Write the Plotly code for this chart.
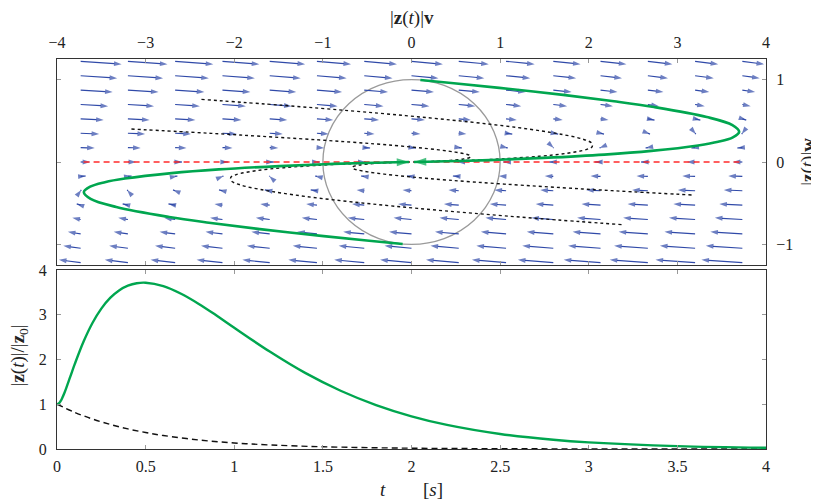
import plotly.graph_objects as go

# ---------------- data ----------------
# quiver grid
quiver_x = [-3.733, -3.2, -2.667, -2.133, -1.6, -1.067, -0.533, 0.0,
            0.533, 1.067, 1.6, 2.133, 2.667, 3.2, 3.733]
quiver_y = [1.222, 1.047, 0.873, 0.698, 0.524, 0.349, 0.175, 0.0,
            -0.175, -0.349, -0.524, -0.698, -0.873, -1.047, -1.222]
# horizontal arrow components (rows top -> bottom, columns left -> right)
quiver_u = [
    [0.462, 0.447, 0.431, 0.416, 0.400, 0.385, 0.369, 0.354, 0.339, 0.323, 0.308, 0.292, 0.277, 0.261, 0.246],
    [0.412, 0.397, 0.381, 0.366, 0.350, 0.335, 0.319, 0.304, 0.289, 0.273, 0.258, 0.242, 0.227, 0.211, 0.196],
    [0.361, 0.346, 0.330, 0.315, 0.299, 0.284, 0.268, 0.253, 0.238, 0.222, 0.207, 0.191, 0.176, 0.160, 0.145],
    [0.310, 0.295, 0.279, 0.264, 0.248, 0.233, 0.217, 0.202, 0.187, 0.171, 0.156, 0.140, 0.125, 0.109, 0.094],
    [0.260, 0.245, 0.229, 0.214, 0.198, 0.183, 0.167, 0.152, 0.137, 0.121, 0.106, 0.090, 0.075, 0.059, 0.044],
    [0.209, 0.194, 0.178, 0.163, 0.147, 0.132, 0.116, 0.101, 0.086, 0.070, 0.055, 0.039, 0.024, 0.008, -0.007],
    [0.159, 0.144, 0.128, 0.113, 0.097, 0.082, 0.066, 0.051, 0.036, 0.020, 0.005, -0.011, -0.026, -0.042, -0.057],
    [0.108, 0.093, 0.077, 0.062, 0.046, 0.031, 0.015, 0.000, -0.015, -0.031, -0.046, -0.062, -0.077, -0.093, -0.108],
    [0.057, 0.042, 0.026, 0.011, -0.005, -0.020, -0.036, -0.051, -0.066, -0.082, -0.097, -0.113, -0.128, -0.144, -0.159],
    [0.007, -0.008, -0.024, -0.039, -0.055, -0.070, -0.086, -0.101, -0.116, -0.132, -0.147, -0.163, -0.178, -0.194, -0.209],
    [-0.044, -0.059, -0.075, -0.090, -0.106, -0.121, -0.137, -0.152, -0.167, -0.183, -0.198, -0.214, -0.229, -0.245, -0.260],
    [-0.094, -0.109, -0.125, -0.140, -0.156, -0.171, -0.187, -0.202, -0.217, -0.233, -0.248, -0.264, -0.279, -0.295, -0.310],
    [-0.145, -0.160, -0.176, -0.191, -0.207, -0.222, -0.238, -0.253, -0.268, -0.284, -0.299, -0.315, -0.330, -0.346, -0.361],
    [-0.196, -0.211, -0.227, -0.242, -0.258, -0.273, -0.289, -0.304, -0.319, -0.335, -0.350, -0.366, -0.381, -0.397, -0.412],
    [-0.246, -0.261, -0.277, -0.292, -0.308, -0.323, -0.339, -0.354, -0.369, -0.385, -0.400, -0.416, -0.431, -0.447, -0.462],
]
# vertical arrow components per row
quiver_v = [-0.035, -0.030, -0.025, -0.020, -0.015, -0.010, -0.005, 0.0,
            0.005, 0.010, 0.015, 0.020, 0.025, 0.030, 0.035]

# green phase-plane trajectories
green_up_x = [0.1, 0.478, 0.991, 1.711, 2.285, 2.735, 3.331, 3.621, 3.697, 3.626,
              3.460, 3.234, 2.706, 2.175, 1.491, 0.981, 0.540, 0.285, 0.148, 0.027]
green_up_y = [0.995, 0.956, 0.900, 0.815, 0.737, 0.667, 0.546, 0.447, 0.366, 0.300,
              0.245, 0.201, 0.135, 0.090, 0.050, 0.027, 0.012, 0.0055, 0.0025, 0.0003]
green_dn_x = [-0.1, -0.478, -0.991, -1.711, -2.285, -2.735, -3.331, -3.621, -3.697, -3.626,
              -3.460, -3.234, -2.706, -2.175, -1.491, -0.981, -0.540, -0.285, -0.148, -0.027]
green_dn_y = [-0.995, -0.956, -0.900, -0.815, -0.737, -0.667, -0.546, -0.447, -0.366, -0.300,
              -0.245, -0.201, -0.135, -0.090, -0.050, -0.027, -0.012, -0.0055, -0.0025, -0.0003]

# dotted trajectories
dot1_x = [-2.37, -1.457, -0.696, -0.067, 0.449, 0.867, 1.202, 1.465, 1.667, 1.924, 2.033,
          2.039, 1.977, 1.736, 1.439, 1.017, 0.683, 0.381, 0.205, 0.107, 0.020]
dot1_y = [0.76, 0.688, 0.622, 0.563, 0.509, 0.461, 0.417, 0.377, 0.341, 0.280, 0.229,
          0.187, 0.153, 0.103, 0.069, 0.038, 0.021, 0.0093, 0.0042, 0.0019, 0.0003]
dot2_x = [-3.16, -2.497, -1.932, -1.046, -0.417, 0.018, 0.309, 0.494, 0.602, 0.654, 0.668,
          0.655, 0.584, 0.440, 0.307, 0.178, 0.097, 0.052]
dot2_y = [0.40, 0.362, 0.327, 0.268, 0.220, 0.180, 0.147, 0.120, 0.0986, 0.081, 0.066,
          0.054, 0.036, 0.020, 0.011, 0.005, 0.0022, 0.001]
dot3_x = [2.37, 1.457, 0.696, 0.067, -0.449, -0.867, -1.202, -1.465, -1.667, -1.924, -2.033,
          -2.039, -1.977, -1.736, -1.439, -1.017, -0.683, -0.381, -0.205, -0.107, -0.020]
dot3_y = [-0.76, -0.688, -0.622, -0.563, -0.509, -0.461, -0.417, -0.377, -0.341, -0.280, -0.229,
          -0.187, -0.153, -0.103, -0.069, -0.038, -0.021, -0.0093, -0.0042, -0.0019, -0.0003]
dot4_x = [3.16, 2.497, 1.932, 1.046, 0.417, -0.018, -0.309, -0.494, -0.602, -0.654, -0.668,
          -0.655, -0.584, -0.440, -0.307, -0.178, -0.097, -0.052]
dot4_y = [-0.40, -0.362, -0.327, -0.268, -0.220, -0.180, -0.147, -0.120, -0.0986, -0.081, -0.066,
          -0.054, -0.036, -0.020, -0.011, -0.005, -0.0022, -0.001]

# eigen-direction (red dashed)
eig_x = [-3.7, 3.7]
eig_y = [0.0, 0.0]

# lower panel: normalised norm vs time
t_vals = [0, 0.01, 0.02, 0.03, 0.04, 0.05, 0.075, 0.1, 0.15, 0.2, 0.25, 0.3, 0.35, 0.4,
          0.45, 0.5, 0.6, 0.7, 0.8, 0.9, 1.0, 1.2, 1.4, 1.6, 1.8, 2.0, 2.2, 2.5, 2.8,
          3.0, 3.5, 4.0]
ratio_vals = [1.0, 1.018, 1.069, 1.144, 1.236, 1.339, 1.616, 1.895, 2.401, 2.815, 3.137,
              3.376, 3.543, 3.649, 3.704, 3.715, 3.639, 3.468, 3.241, 2.982, 2.710, 2.177,
              1.700, 1.302, 0.982, 0.731, 0.539, 0.336, 0.206, 0.148, 0.064, 0.027]
decay_t = [0, 0.1, 0.2, 0.3, 0.4, 0.5, 0.6, 0.8, 1.0, 1.2, 1.5, 2.0, 2.5, 3.0, 3.5, 4.0]
decay_vals = [1.0, 0.819, 0.670, 0.549, 0.449, 0.368, 0.301, 0.202, 0.135, 0.091, 0.050,
              0.018, 0.0067, 0.0025, 0.0009, 0.0003]

# ---------------- styling ----------------
FONT = "Liberation Serif, DejaVu Serif, serif"
BLUE = "#2f49a8"
GREEN = "#00a64f"
TXT = "#222222"

fig = go.Figure()

# quiver
qx, qy, qs = [], [], []
for i, yv in enumerate(quiver_y):
    for j, xv in enumerate(quiver_x):
        u = quiver_u[i][j]
        v = quiver_v[i]
        if u == 0 and v == 0:
            continue
        qx += [xv, xv + u, None]
        qy += [yv, yv + v, None]
        qs += [0, 8, 0]
fig.add_trace(go.Scatter(
    x=qx, y=qy, mode="lines+markers", xaxis="x", yaxis="y",
    line=dict(color=BLUE, width=1.2),
    marker=dict(symbol="arrow", size=qs, angleref="previous", color=BLUE,
                line=dict(width=0)),
    hoverinfo="skip", showlegend=False, connectgaps=False))

# red dashed eigen line
fig.add_trace(go.Scatter(x=eig_x, y=eig_y, mode="lines", xaxis="x", yaxis="y",
                         line=dict(color="#ff2a2a", width=1.5, dash="6px,4px"),
                         showlegend=False, hoverinfo="skip"))

# dotted trajectories
for dx, dy in [(dot1_x, dot1_y), (dot2_x, dot2_y), (dot3_x, dot3_y), (dot4_x, dot4_y)]:
    fig.add_trace(go.Scatter(x=dx, y=dy, mode="lines", xaxis="x", yaxis="y",
                             line=dict(color="#111111", width=1.4, dash="dot", shape="spline"),
                             showlegend=False, hoverinfo="skip"))

# green trajectories with arrow heads
for gx, gy in [(green_up_x, green_up_y), (green_dn_x, green_dn_y)]:
    sizes = [0] * (len(gx) - 1) + [13]
    fig.add_trace(go.Scatter(x=gx, y=gy, mode="lines+markers", xaxis="x", yaxis="y",
                             line=dict(color=GREEN, width=2.6, shape="spline"),
                             marker=dict(symbol="arrow", size=sizes, angleref="previous",
                                         color=GREEN, line=dict(width=0)),
                             showlegend=False, hoverinfo="skip"))

# lower panel
fig.add_trace(go.Scatter(x=decay_t, y=decay_vals, mode="lines", xaxis="x2", yaxis="y2",
                         line=dict(color="#111111", width=1.4, dash="6px,4px", shape="spline"),
                         showlegend=False, hoverinfo="skip"))
fig.add_trace(go.Scatter(x=t_vals, y=ratio_vals, mode="lines", xaxis="x2", yaxis="y2",
                         line=dict(color=GREEN, width=2.4, shape="spline"),
                         showlegend=False, hoverinfo="skip"))

axis_common = dict(showgrid=False, zeroline=False, showline=True, linecolor="#333333",
                   linewidth=1.2, mirror="allticks", ticks="inside", ticklen=4,
                   tickcolor="#999999", tickwidth=1, automargin=False,
                   tickfont=dict(family=FONT, size=16, color=TXT))

LBL = dict(family=FONT, size=19, color=TXT)


def label(text, x, y, xref="paper", angle=0):
    return dict(text=text, xref=xref, yref="paper", x=x, y=y, textangle=angle,
                xanchor="center", yanchor="middle", showarrow=False, font=LBL)


fig.update_layout(
    width=819, height=503,
    margin=dict(l=49, r=61, t=51, b=62),
    paper_bgcolor="white", plot_bgcolor="white",
    font=dict(family=FONT, color=TXT),
    xaxis=dict(domain=[0, 1], anchor="y", side="top", range=[-4, 4], dtick=1,
               ticklabelstandoff=4, **axis_common),
    yaxis=dict(domain=[0.4718, 1], anchor="x", side="right", range=[-1.25, 1.25],
               tickvals=[-1, 0, 1], ticklabelstandoff=6, **axis_common),
    xaxis2=dict(domain=[0, 1], anchor="y2", range=[0, 4], dtick=0.5,
                ticklabelstandoff=3, **axis_common),
    yaxis2=dict(domain=[0, 0.459], anchor="x2", range=[0, 4], dtick=1,
                ticklabelstandoff=6, **axis_common),
    shapes=[dict(type="circle", xref="x", yref="y", x0=-1, x1=1, y0=-1, y1=1,
                 line=dict(color="#9a9a9a", width=1.3), layer="below")],
    annotations=[
        label("|<b>z</b>(<i>t</i>)|<b>v</b>", 0.5, 1.104),
        label("|<b>z</b>(<i>t</i>)|<b>w</b>", 1.059, 0.736, angle=-90),
        label("|<b>z</b>(<i>t</i>)|/|<b>z</b><sub>0</sub>|", -0.053, 0.241, angle=-90),
        label("<i>t</i>", 1.84, -0.105, xref="x2"),
        label("[<i>s</i>]", 2.12, -0.105, xref="x2"),
    ],
)

fig.write_html("out.html")
